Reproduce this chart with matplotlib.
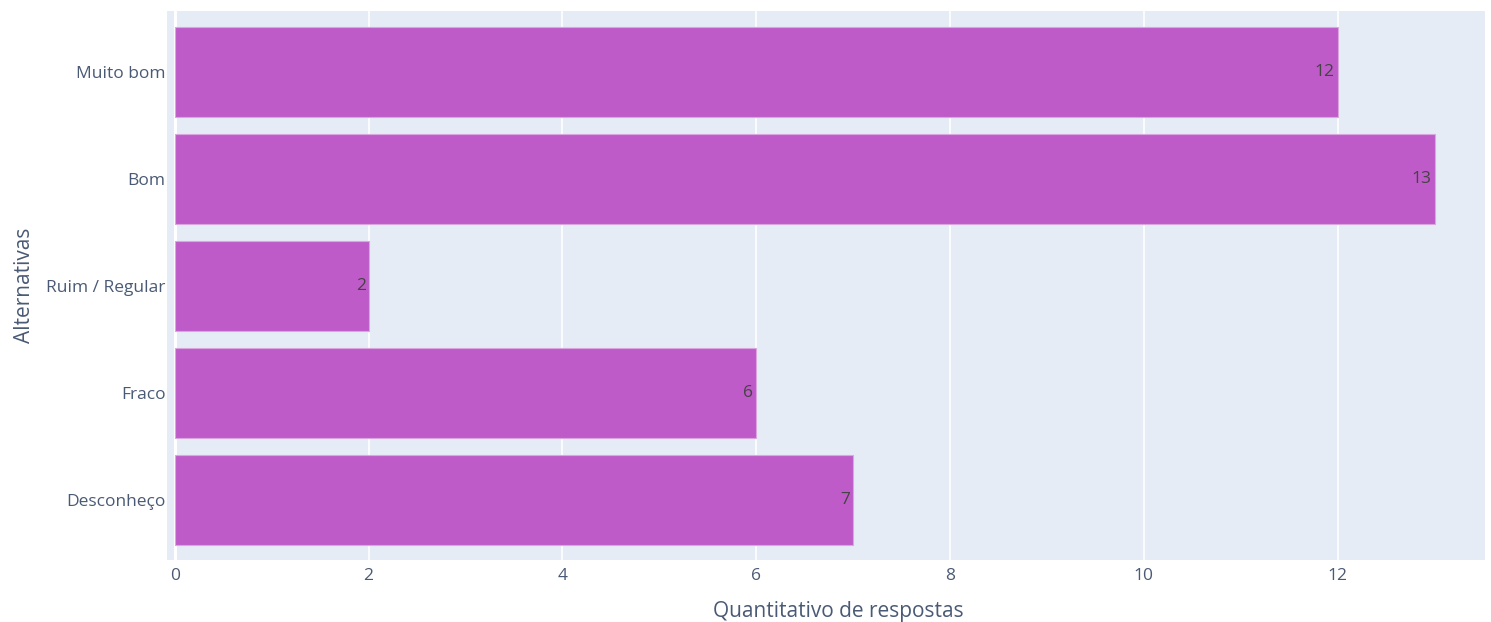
import matplotlib
matplotlib.use("Agg")
import matplotlib.pyplot as plt

# data, bottom to top as drawn
categorias = ["Desconheço", "Fraco", "Ruim / Regular", "Bom", "Muito bom"]
respostas = [7, 6, 2, 13, 12]
x_ticks = [0, 2, 4, 6, 8, 10, 12]

bg = "#E5ECF6"
bar_color = "#BE5BC8"
text_color = "#4a5a75"

plt.rcParams['font.family'] = ['Open Sans', 'DejaVu Sans']

fig = plt.figure(figsize=(14.91, 6.22), dpi=100)
ax = fig.add_axes([0.112, 0.0997, 0.884, 0.8826])
ax.set_facecolor(bg)

pos = list(range(len(categorias)))
bars = ax.barh(pos, respostas, height=0.84, color=bar_color,
               edgecolor="#D9A6E0", linewidth=0.8, zorder=3)

for b, v in zip(bars, respostas):
    ax.text(b.get_width() - 0.03, b.get_y() + b.get_height() / 2, str(v),
            ha="right", va="center", fontsize=12.5, color="#444444", zorder=4)

ax.set_xlim(-0.08, 13.52)
ax.set_ylim(-0.56, 4.57)
ax.set_xticks(x_ticks)
ax.set_yticks(pos)
ax.set_yticklabels(categorias)

ax.grid(axis="x", color="white", linewidth=1.2, zorder=0)
ax.axvline(0, color="white", linewidth=2.2, zorder=1)
for s in ax.spines.values():
    s.set_visible(False)
ax.tick_params(axis="both", length=0, labelsize=12.5, labelcolor=text_color)
ax.tick_params(axis="x", pad=6)
ax.tick_params(axis="y", pad=1)

ax.set_xlabel("Quantitativo de respostas", fontsize=15, color=text_color, labelpad=12)
ax.xaxis.set_label_coords(0.509, -0.075)
ax.set_ylabel("Alternativas", fontsize=15, color=text_color, labelpad=8)

fig.savefig("out.png", dpi=100, facecolor="white")
